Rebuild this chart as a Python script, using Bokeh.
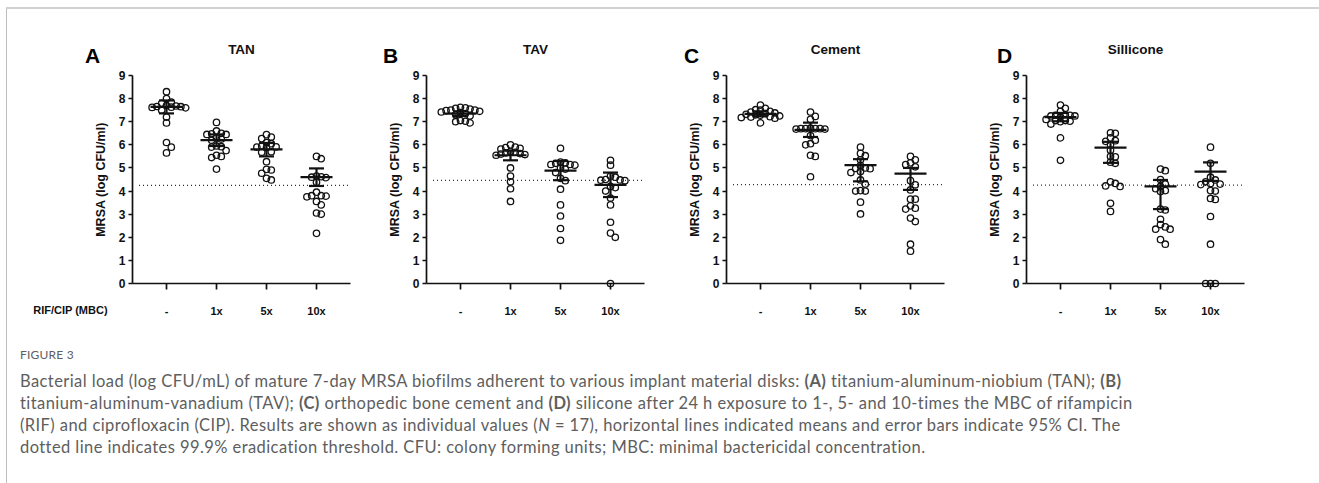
import numpy as np
from bokeh.plotting import figure
from bokeh.models import Range1d, FixedTicker, Div
from bokeh.layouts import row, column
from bokeh.core.properties import value
from bokeh.embed import file_html
from bokeh.resources import INLINE

# ---------------- data ----------------
categories = ["-", "1x", "5x", "10x"]
panel_letters = ["A", "B", "C", "D"]
panel_titles = ["TAN", "TAV", "Cement", "Sillicone"]
x_caption = "RIF/CIP (MBC)"
y_title = "MRSA (log CFU/ml)"

tan_ctrl = [8.3, 8.0, 7.85, 7.8, 7.7, 7.68, 7.66, 7.65, 7.63, 7.62, 7.6, 7.5, 7.2, 6.95, 6.1, 5.9, 5.65]
tan_1x = [6.97, 6.6, 6.5, 6.48, 6.45, 6.45, 6.3, 6.25, 6.2, 5.95, 5.92, 5.9, 5.75, 5.55, 5.5, 5.45, 4.95]
tan_5x = [6.44, 6.34, 6.27, 6.1, 6.05, 5.95, 5.91, 5.9, 5.88, 5.7, 5.68, 5.27, 4.94, 4.91, 4.77, 4.55, 4.48]
tan_10x = [5.5, 5.4, 4.65, 4.62, 4.6, 4.58, 4.38, 3.95, 3.8, 3.8, 3.78, 3.75, 3.55, 3.4, 3.05, 3.0, 2.17]
tan_mean = [7.64, 6.2, 5.8, 4.6]
tan_lo = [7.36, 5.95, 5.5, 4.22]
tan_hi = [7.92, 6.45, 6.08, 4.98]

tav_ctrl = [7.62, 7.6, 7.58, 7.55, 7.5, 7.5, 7.48, 7.45, 7.42, 7.4, 7.35, 7.3, 7.25, 7.05, 7.02, 7.0, 6.95]
tav_1x = [6.0, 5.9, 5.88, 5.85, 5.82, 5.7, 5.68, 5.65, 5.62, 5.6, 5.58, 5.55, 5.0, 4.65, 4.4, 4.1, 3.55]
tav_5x = [5.85, 5.25, 5.22, 5.2, 5.15, 5.15, 5.12, 5.0, 4.95, 4.8, 4.55, 4.45, 4.08, 3.4, 2.92, 2.38, 1.87]
tav_10x = [5.33, 5.12, 4.65, 4.6, 4.5, 4.48, 4.47, 4.45, 4.2, 4.15, 4.0, 3.7, 3.4, 2.65, 2.18, 2.0, 0.0]
tav_mean = [7.35, 5.55, 4.88, 4.27]
tav_lo = [7.25, 5.33, 4.47, 3.74]
tav_hi = [7.45, 5.75, 5.3, 4.8]

cem_ctrl = [7.72, 7.58, 7.52, 7.5, 7.45, 7.42, 7.38, 7.35, 7.32, 7.3, 7.28, 7.25, 7.22, 7.2, 7.18, 7.15, 6.95]
cem_1x = [7.42, 7.23, 7.1, 6.72, 6.7, 6.7, 6.7, 6.7, 6.68, 6.68, 6.4, 6.2, 6.05, 6.0, 5.55, 5.5, 4.62]
cem_5x = [5.9, 5.63, 5.53, 5.35, 5.1, 5.0, 4.98, 4.97, 4.85, 4.8, 4.48, 4.3, 4.02, 4.0, 4.0, 3.52, 3.01]
cem_10x = [5.5, 5.35, 5.22, 5.15, 5.05, 4.45, 4.27, 4.05, 3.65, 3.65, 3.36, 3.26, 3.22, 2.83, 2.68, 1.7, 1.4]
cem_mean = [7.34, 6.65, 5.12, 4.75]
cem_lo = [7.24, 6.34, 4.42, 4.05]
cem_hi = [7.45, 6.96, 5.38, 5.0]

sil_ctrl = [7.72, 7.58, 7.45, 7.3, 7.28, 7.28, 7.25, 7.25, 7.22, 7.1, 7.05, 7.05, 7.02, 7.0, 6.9, 6.3, 5.33]
sil_1x = [6.52, 6.5, 6.3, 6.18, 6.15, 6.0, 5.77, 5.5, 5.48, 5.25, 5.2, 4.4, 4.33, 4.22, 4.2, 3.47, 3.12]
sil_5x = [4.95, 4.88, 4.5, 4.3, 4.2, 4.1, 4.02, 3.98, 3.22, 3.18, 2.78, 2.55, 2.45, 2.35, 2.35, 1.9, 1.7]
sil_10x = [5.9, 5.2, 4.6, 4.48, 4.4, 4.33, 4.3, 4.28, 4.02, 4.0, 3.68, 3.64, 2.9, 1.7, 0.0, 0.0, 0.0]
sil_mean = [7.2, 5.88, 4.2, 4.84]
sil_lo = [7.02, 5.22, 3.22, 4.44]
sil_hi = [7.38, 6.13, 4.48, 5.24]

thresholds = [4.25, 4.46, 4.28, 4.26]

caption_lines = [
    "Bacterial load (log CFU/mL) of mature 7-day MRSA biofilms adherent to various implant material disks: <b>(A)</b> titanium-aluminum-niobium (TAN); <b>(B)</b>",
    "titanium-aluminum-vanadium (TAV); <b>(C)</b> orthopedic bone cement and <b>(D)</b> silicone after 24 h exposure to 1-, 5- and 10-times the MBC of rifampicin",
    "(RIF) and ciprofloxacin (CIP). Results are shown as individual values (<i>N</i> = 17), horizontal lines indicated means and error bars indicate 95% CI. The",
    "dotted line indicates 99.9% eradication threshold. CFU: colony forming units; MBC: minimal bactericidal concentration.",
]

# ---------------- layout constants ----------------
FRAME_W, FRAME_H = 218, 208
X0, X1 = -0.68, 3.68
PX_X = FRAME_W / (X1 - X0)
PX_Y = FRAME_H / 9.0
FONT = "Liberation Sans"
INK = "#111111"
FIG_TOP, FIG_BOTTOM = 66, 47
FIG_H = FIG_TOP + FRAME_H + FIG_BOTTOM


def swarm(vals, step=4.8, min_d=4.8):
    """GraphPad-like horizontal spreading of points, computed from the values."""
    vals = np.asarray(vals, dtype=float)
    order = np.argsort(-vals, kind="stable")
    placed = []
    offs = np.zeros(len(vals))
    cands = [0]
    for j in range(1, 40):
        cands += [j, -j]
    for i in order:
        yv = vals[i] * PX_Y
        for c in cands:
            xo = c * step
            if all((xo - px) ** 2 + (yv - py) ** 2 >= min_d ** 2 for px, py in placed):
                break
        placed.append((xo, yv))
        offs[i] = xo / PX_X
    return offs


panels = [
    ([tan_ctrl, tan_1x, tan_5x, tan_10x], tan_mean, tan_lo, tan_hi),
    ([tav_ctrl, tav_1x, tav_5x, tav_10x], tav_mean, tav_lo, tav_hi),
    ([cem_ctrl, cem_1x, cem_5x, cem_10x], cem_mean, cem_lo, cem_hi),
    ([sil_ctrl, sil_1x, sil_5x, sil_10x], sil_mean, sil_lo, sil_hi),
]
letter_dx = [-74, -70, -69, -56]   # px from first category tick

figs = []
for k, (groups, means, los, his) in enumerate(panels):
    left = 125 if k == 0 else 70
    right = 6 if k == 0 else 12
    p = figure(frame_width=FRAME_W, frame_height=FRAME_H,
               min_border_left=left, min_border_right=right,
               min_border_top=FIG_TOP, min_border_bottom=FIG_BOTTOM,
               x_range=Range1d(X0, X1), y_range=Range1d(0, 9),
               output_backend="svg", toolbar_location=None, tools="", margin=0)
    p.grid.visible = False
    p.outline_line_color = None
    p.background_fill_color = "white"
    p.border_fill_color = "white"

    for ax in (p.xaxis[0], p.yaxis[0]):
        ax.axis_line_width = 1.7
        ax.axis_line_color = INK
        ax.major_tick_line_width = 1.7
        ax.major_tick_line_color = INK
        ax.major_tick_in = 0
        ax.minor_tick_line_color = None
        ax.major_label_text_font = FONT
        ax.major_label_text_font_style = "bold"
        ax.major_label_text_color = INK

    p.xaxis.ticker = FixedTicker(ticks=[0, 1, 2, 3])
    p.xaxis.major_label_overrides = {i: c for i, c in enumerate(categories)}
    p.xaxis.major_tick_out = 6
    p.xaxis.major_label_standoff = 15
    p.xaxis.major_label_text_font_size = "11px"

    p.yaxis.ticker = FixedTicker(ticks=list(range(10)))
    p.yaxis.major_tick_out = 4
    p.yaxis.major_label_standoff = 3
    p.yaxis.major_label_text_font_size = "12px"
    p.yaxis.axis_label = y_title
    p.yaxis.axis_label_text_font = FONT
    p.yaxis.axis_label_text_font_style = "bold"
    p.yaxis.axis_label_text_font_size = "12.5px"
    p.yaxis.axis_label_standoff = 8
    p.yaxis.axis_label_text_color = INK

    # threshold dotted line
    p.segment(x0=[-0.55], y0=[thresholds[k]], x1=[3.64], y1=[thresholds[k]],
              line_color="#333333", line_width=1.3, line_dash="1 3", level="overlay")

    # points
    for gi, vals in enumerate(groups):
        xs = gi + swarm(vals)
        p.scatter(x=list(xs), y=vals, marker="circle", size=6.4,
                  line_color=INK, line_width=1.3, fill_color=None, level="overlay")

    # mean and 95% CI
    cx = np.arange(4)
    p.segment(x0=list(cx - 0.32), y0=means, x1=list(cx + 0.32), y1=means,
              line_color=INK, line_width=2.2, level="overlay")
    p.segment(x0=list(cx), y0=los, x1=list(cx), y1=his,
              line_color=INK, line_width=2.2, level="overlay")
    p.segment(x0=list(cx - 0.15), y0=los, x1=list(cx + 0.15), y1=los,
              line_color=INK, line_width=2.2, level="overlay")
    p.segment(x0=list(cx - 0.15), y0=his, x1=list(cx + 0.15), y1=his,
              line_color=INK, line_width=2.2, level="overlay")

    # title, panel letter (overlay-level text glyphs are not clipped to the frame)
    p.text(x=[1.5], y=[9 + 26 / PX_Y], text=[panel_titles[k]], text_align="center",
           text_baseline="middle", text_font=value(FONT), text_font_style="bold",
           text_font_size=value("13.5px"), text_color=INK, level="overlay")
    p.text(x=[letter_dx[k] / PX_X], y=[9 + 20 / PX_Y], text=[panel_letters[k]],
           text_align="center", text_baseline="middle", text_font=value(FONT),
           text_font_style="bold", text_font_size=value("21px"), text_color="#000000",
           level="overlay")
    if k == 0:
        p.text(x=[-96 / PX_X], y=[-26 / PX_Y], text=[x_caption], text_align="center",
               text_baseline="middle", text_font=value(FONT), text_font_style="bold",
               text_font_size=value("11px"), text_color=INK, level="overlay")
    figs.append(p)

caption_html = (
    '<div style="padding-left:13px; font-family:Lato, \'Open Sans\', sans-serif; color:#5e5e5e;">'
    '<div style="font-size:12px; line-height:16px; margin-top:17px; letter-spacing:0.2px;">FIGURE 3</div>'
    '<div style="font-size:16.5px; line-height:22px; margin-top:7px; letter-spacing:0.42px; white-space:nowrap;">'
    + "<br>".join(caption_lines) + "</div></div>"
)
top_line = Div(text="", width=1313, height=2, margin=(7, 0, 0, 6),
               styles={"background-color": "#d2d2d2"})
left_line = Div(text="", width=1, height=FIG_H, margin=(0, 0, 0, 6),
                styles={"background-color": "#bdbdbd"})
cap = Div(text=caption_html, width=1290, height=153, margin=(0, 0, 0, 6),
          styles={"border-left": "1px solid #bdbdbd"})

layout = column(top_line, row(left_line, *figs, margin=0), cap, margin=0)

open("out.html", "w").write(file_html(layout, INLINE))
